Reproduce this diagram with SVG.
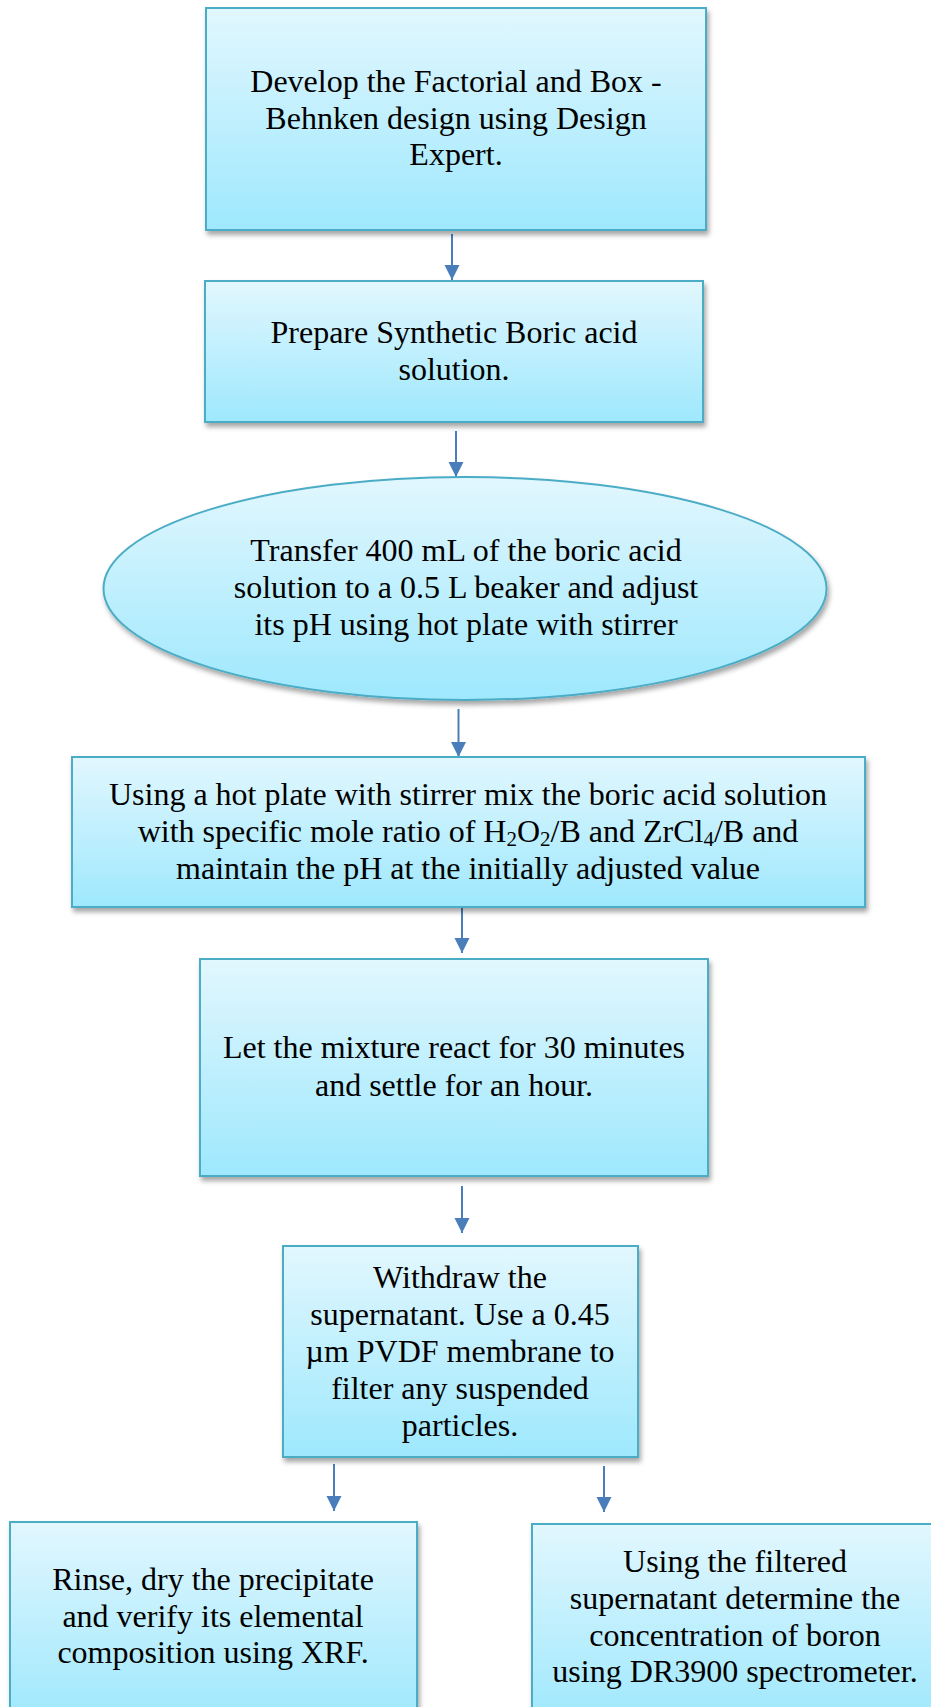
<svg xmlns="http://www.w3.org/2000/svg" width="931" height="1707" viewBox="0 0 931 1707">
<style>
.box{fill:url(#g);stroke:#4bacc6;stroke-width:2;filter:url(#sh)}
.t{font-family:"Liberation Serif","Times New Roman",serif;font-size:32px;fill:#000;text-anchor:middle}
.c line{stroke:#4a7ebb;stroke-width:2;marker-end:url(#ah)}
.sub{font-size:21px}
</style>
<defs>
<linearGradient id="g" x1="0" y1="0" x2="0" y2="1">
<stop offset="0" stop-color="#e2f7fe"/>
<stop offset="1" stop-color="#9ee8fd"/>
</linearGradient>
<filter id="sh" x="-10%" y="-10%" width="120%" height="130%">
<feDropShadow dx="2" dy="4" stdDeviation="2.5" flood-color="#000" flood-opacity="0.35"/>
</filter>
<marker id="ah" markerUnits="userSpaceOnUse" markerWidth="16" markerHeight="16" viewBox="0 0 16 16" refX="15" refY="7.5" orient="auto">
<path d="M0,0 L15,7.5 L0,15 z" fill="#4a7ebb"/>
</marker>
</defs>
<rect width="931" height="1707" fill="#fff"/>
<g class="c">
<line x1="452" y1="234" x2="452" y2="280"/>
<line x1="456" y1="431" x2="456" y2="477"/>
<line x1="458.5" y1="709" x2="458.5" y2="757"/>
<line x1="462" y1="907" x2="462" y2="953"/>
<line x1="462" y1="1186" x2="462" y2="1233"/>
<line x1="334" y1="1464" x2="334" y2="1511"/>
<line x1="604" y1="1466" x2="604" y2="1512"/>
</g>
<g id="n1">
<rect class="box" x="206" y="8" width="500" height="222"/>
<text class="t"><tspan x="456" y="92">Develop the Factorial and Box -</tspan><tspan x="456" y="128.5">Behnken design using Design</tspan><tspan x="456" y="165">Expert.</tspan></text>
</g>
<g id="n2">
<rect class="box" x="205" y="281" width="498" height="141"/>
<text class="t"><tspan x="454" y="343">Prepare Synthetic Boric acid</tspan><tspan x="454" y="380">solution.</tspan></text>
</g>
<g id="n3">
<ellipse class="box" cx="465" cy="588.5" rx="361.5" ry="111.5"/>
<text class="t"><tspan x="466" y="561">Transfer 400 mL of the boric acid</tspan><tspan x="466" y="598">solution to a 0.5 L beaker and adjust</tspan><tspan x="466" y="635">its pH using hot plate with stirrer</tspan></text>
</g>
<g id="n4">
<rect class="box" x="72" y="757" width="793" height="150"/>
<text class="t"><tspan x="468" y="805">Using a hot plate with stirrer mix the boric acid solution</tspan><tspan x="468" y="842">with specific mole ratio of H<tspan class="sub" dy="4">2</tspan><tspan dy="-4">O</tspan><tspan class="sub" dy="4">2</tspan><tspan dy="-4">/B and ZrCl</tspan><tspan class="sub" dy="4">4</tspan><tspan dy="-4">/B and</tspan></tspan><tspan x="468" y="879">maintain the pH at the initially adjusted value</tspan></text>
</g>
<g id="n5">
<rect class="box" x="200" y="959" width="508" height="217"/>
<text class="t"><tspan x="454" y="1058">Let the mixture react for 30 minutes</tspan><tspan x="454" y="1096">and settle for an hour.</tspan></text>
</g>
<g id="n6">
<rect class="box" x="283" y="1246" width="355" height="211"/>
<text class="t"><tspan x="460" y="1288">Withdraw the</tspan><tspan x="460" y="1325">supernatant. Use a 0.45</tspan><tspan x="460" y="1362">µm PVDF membrane to</tspan><tspan x="460" y="1399">filter any suspended</tspan><tspan x="460" y="1436">particles.</tspan></text>
</g>
<g id="n7">
<rect class="box" x="10" y="1522" width="407" height="200"/>
<text class="t"><tspan x="213" y="1590">Rinse, dry the precipitate</tspan><tspan x="213" y="1627">and verify its elemental</tspan><tspan x="213" y="1663">composition using XRF.</tspan></text>
</g>
<g id="n8">
<rect class="box" x="532" y="1524" width="406" height="200"/>
<text class="t"><tspan x="735" y="1572">Using the filtered</tspan><tspan x="735" y="1609">supernatant determine the</tspan><tspan x="735" y="1646">concentration of boron</tspan><tspan x="735" y="1682">using DR3900 spectrometer.</tspan></text>
</g>
</svg>
